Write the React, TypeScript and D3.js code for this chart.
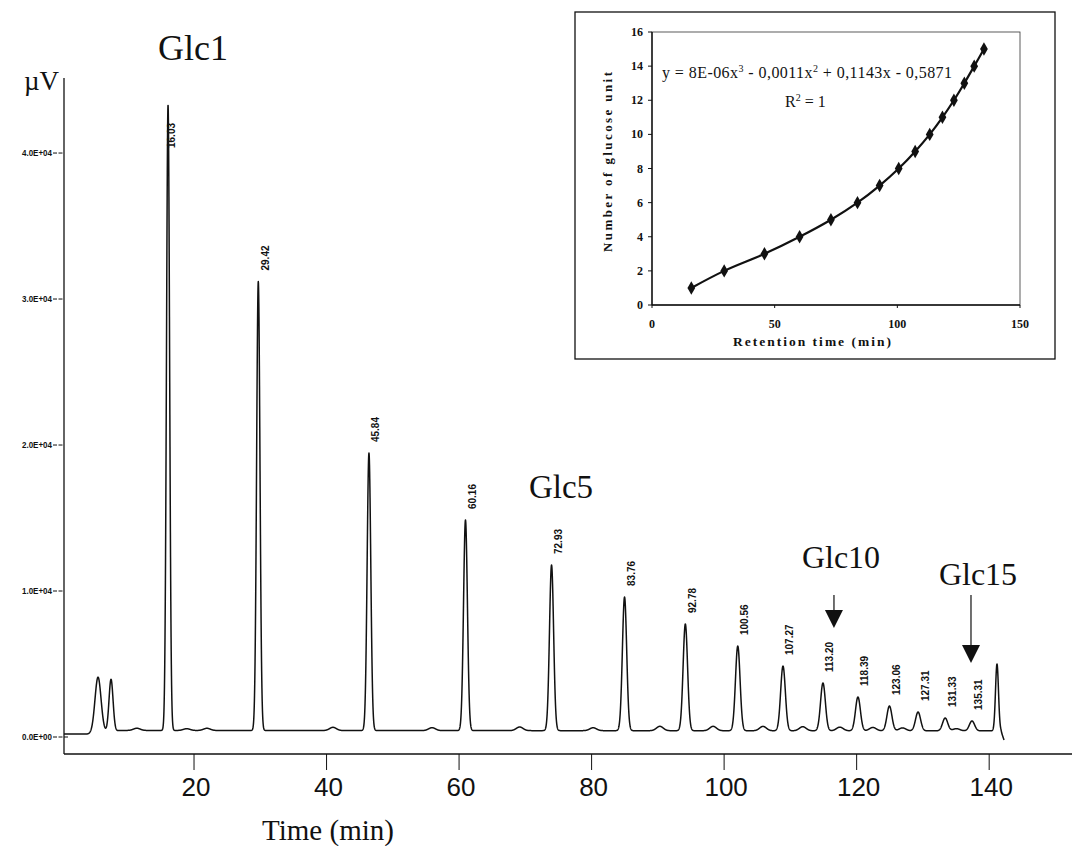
import React from "react";
import * as d3 from "d3";

// Labelled maltooligosaccharide peaks (retention time in min, apex in µV)
const retentionTimes = [16.03, 29.42, 45.84, 60.16, 72.93, 83.76, 92.78, 100.56, 107.27, 113.2, 118.39, 123.06, 127.31, 131.33, 135.31];
const peakLabels = ["16.03", "29.42", "45.84", "60.16", "72.93", "83.76", "92.78", "100.56", "107.27", "113.20", "118.39", "123.06", "127.31", "131.33", "135.31"];
const peakApex = [43300, 31200, 19450, 14860, 11780, 9590, 7740, 6230, 4860, 3700, 2740, 2120, 1710, 1300, 1100];
const glucoseUnits = [1, 2, 3, 4, 5, 6, 7, 8, 9, 10, 11, 12, 13, 14, 15];

// Unlabelled peaks (injection pair and the late system peak)
const extraPeakTimes = [5.64, 7.57, 139.02];
const extraPeakApex = [4100, 3950, 5000];
const extraPeakSigma = [0.45, 0.3, 0.22];

// Small baseline humps between the main peaks
const bumpTimes = [11.4, 18.8, 21.8, 40.5, 55.2, 68.2, 79.1, 89.0, 96.9, 104.3, 110.2, 115.7, 120.6, 125.0, 133.0];
const bumpHeights = [150, 120, 150, 220, 200, 250, 200, 300, 300, 300, 280, 250, 230, 200, 150];

// Baseline drift anchors
const baselineTimes = [0.6, 4.0, 9.0, 139.6, 140.06];
const baselineLevels = [200, 200, 450, 420, -200];

const yTicks = [0, 10000, 20000, 30000, 40000];
const yTickLabels = ["0.0E+00", "1.0E+04", "2.0E+04", "3.0E+04", "4.0E+04"];
const xTicks = [20, 40, 60, 80, 100, 120, 140];

const insetXTicks = [0, 50, 100, 150];
const insetYTicks = [0, 2, 4, 6, 8, 10, 12, 14, 16];

const SANS = "'Liberation Sans', Arial, sans-serif";
const SERIF = "'Liberation Serif', 'Times New Roman', serif";

export default function App() {
  const W = 1072;
  const H = 846;

  // printed time axis
  const axisX = d3.scaleLinear().domain([0, 152.5]).range([61.5, 1072]);
  // recorder trace runs slightly faster than the printed time axis
  const traceX = d3.scaleLinear().domain([0, 150]).range([60, 60 + 6.74 * 150]);
  const y = d3.scaleLinear().domain([0, 45140]).range([737, 78]);

  const baseline = d3.scaleLinear().domain(baselineTimes).range(baselineLevels).clamp(true);
  const sigmaAt = (t: number) => 0.21 + 0.0013 * t;

  const signal = (t: number) => {
    let v = baseline(t);
    retentionTimes.forEach((rt, i) => {
      const s = sigmaAt(rt);
      v += (peakApex[i] - baseline(rt)) * Math.exp(-0.5 * ((t - rt) / s) ** 2);
    });
    extraPeakTimes.forEach((rt, i) => {
      const s = extraPeakSigma[i];
      v += (extraPeakApex[i] - baseline(rt)) * Math.exp(-0.5 * ((t - rt) / s) ** 2);
    });
    bumpTimes.forEach((bt, i) => {
      v += bumpHeights[i] * Math.exp(-0.5 * ((t - bt) / 0.5) ** 2);
    });
    return v;
  };

  const tEnd = baselineTimes[baselineTimes.length - 1];
  const ts = d3.range(baselineTimes[0], tEnd, 0.02).concat([tEnd]);
  const trace = d3
    .line<number>()
    .x((t) => traceX(t))
    .y((t) => y(signal(t)))(ts);

  const axisBottom = 754;
  const axisLeft = 64;

  // inset calibration plot
  const ix = d3.scaleLinear().domain([0, 150]).range([652, 1020]);
  const iy = d3.scaleLinear().domain([0, 16]).range([305, 32]);
  const calib = retentionTimes.map((t, i) => [t, glucoseUnits[i]] as [number, number]);
  const calibLine = d3
    .line<[number, number]>()
    .x((d) => ix(d[0]))
    .y((d) => iy(d[1]))
    .curve(d3.curveCatmullRom)(calib);
  const diamond = d3.symbol(d3.symbolDiamond, 52)();

  const annotations = [
    { text: "Glc1", x: 193, y: 60, size: 36 },
    { text: "Glc5", x: 561, y: 498, size: 33 },
    { text: "Glc10", x: 841, y: 568, size: 32 },
    { text: "Glc15", x: 978, y: 585, size: 32 },
  ];
  const arrows = [
    { x: traceX(113.2) + 11, y0: 595, tip: 628 },
    { x: traceX(135.31) - 1, y0: 595, tip: 663 },
  ];

  return (
    <svg width={W} height={H} style={{ display: "block", position: "absolute", left: 0, top: 0, background: "#fff" }}>
      <rect x={0} y={0} width={W} height={H} fill="#fff" />

      {/* axes */}
      <line x1={axisLeft} y1={78} x2={axisLeft} y2={axisBottom} stroke="#111" strokeWidth={1.3} />
      <line x1={axisLeft} y1={axisBottom} x2={W} y2={axisBottom} stroke="#111" strokeWidth={1.3} />

      {yTicks.map((v, i) => (
        <g key={v}>
          <line x1={53} x2={i === 0 ? 68 : 63} y1={y(v)} y2={y(v)} stroke="#111" strokeWidth={1} strokeDasharray="4,1.5" />
          <text x={52} y={y(v) + 3} textAnchor="end" fontFamily={SANS} fontSize={8.5} fontWeight="bold" fill="#111" textLength={30} lengthAdjust="spacingAndGlyphs">
            {yTickLabels[i]}
          </text>
        </g>
      ))}

      {xTicks.map((v) => (
        <g key={v}>
          <line x1={axisX(v)} x2={axisX(v)} y1={axisBottom} y2={770} stroke="#111" strokeWidth={1} />
          <text x={axisX(v) + 2} y={796} textAnchor="middle" fontFamily={SANS} fontSize={26} fill="#111">
            {v}
          </text>
        </g>
      ))}

      <text x={24} y={90} fontFamily={SERIF} fontSize={27} fill="#111">
        µV
      </text>
      <text x={328} y={840} textAnchor="middle" fontFamily={SERIF} fontSize={29} fill="#111">
        Time (min)
      </text>

      {/* chromatogram */}
      <path d={trace ?? ""} fill="none" stroke="#111" strokeWidth={1.5} strokeLinejoin="round" />

      {retentionTimes.map((rt, i) => {
        const apexY = y(peakApex[i]);
        const clamped = apexY - 11 < 148;
        const px = traceX(rt) + (clamped ? 3 : 7);
        const bottom = clamped ? 148 : apexY - 11;
        return (
          <text
            key={rt}
            transform={`translate(${px},${bottom}) rotate(-90)`}
            dy="0.35em"
            fontFamily={SANS}
            fontSize={10}
            fontWeight="bold"
            fill="#111"
          >
            {peakLabels[i]}
          </text>
        );
      })}

      {annotations.map((a) => (
        <text key={a.text} x={a.x} y={a.y} textAnchor="middle" fontFamily={SERIF} fontSize={a.size} fill="#111">
          {a.text}
        </text>
      ))}
      {arrows.map((a, i) => (
        <g key={i}>
          <line x1={a.x} x2={a.x} y1={a.y0} y2={a.tip - 16} stroke="#111" strokeWidth={1.2} />
          <path d={`M${a.x - 9},${a.tip - 18} L${a.x + 9},${a.tip - 18} L${a.x},${a.tip} Z`} fill="#111" />
        </g>
      ))}

      {/* inset: calibration curve */}
      <rect x={575} y={12} width={480} height={347} fill="#fff" stroke="#111" strokeWidth={1.3} />
      <rect x={ix(0)} y={iy(16)} width={ix(150) - ix(0)} height={iy(0) - iy(16)} fill="none" stroke="#333" strokeWidth={0.8} />
      <line x1={ix(0)} x2={ix(0)} y1={iy(16)} y2={iy(0)} stroke="#111" strokeWidth={1.4} />
      <line x1={ix(0)} x2={ix(150)} y1={iy(0)} y2={iy(0)} stroke="#111" strokeWidth={1.4} />
      {insetYTicks.map((v) => (
        <g key={v}>
          <line x1={ix(0) - 4} x2={ix(0)} y1={iy(v)} y2={iy(v)} stroke="#111" strokeWidth={1} />
          <text x={643} y={iy(v) + 4} textAnchor="end" fontFamily={SERIF} fontSize={12} fontWeight="bold" fill="#111">
            {v}
          </text>
        </g>
      ))}
      {insetXTicks.map((v) => (
        <g key={v}>
          <line x1={ix(v)} x2={ix(v)} y1={iy(0)} y2={iy(0) + 3} stroke="#111" strokeWidth={1} />
          <text x={ix(v)} y={328} textAnchor="middle" fontFamily={SERIF} fontSize={12} fontWeight="bold" fill="#111">
            {v}
          </text>
        </g>
      ))}
      <text
        transform="translate(612,162) rotate(-90)"
        textAnchor="middle"
        fontFamily={SERIF}
        fontSize={13}
        fontWeight="bold"
        fill="#111"
        textLength={180}
        lengthAdjust="spacing"
      >
        Number of glucose unit
      </text>
      <text x={812} y={346} textAnchor="middle" fontFamily={SERIF} fontSize={13.5} fontWeight="bold" fill="#111" textLength={158} lengthAdjust="spacing">
        Retention time (min)
      </text>

      <path d={calibLine ?? ""} fill="none" stroke="#111" strokeWidth={2.2} />
      {calib.map((d) => (
        <path key={d[0]} d={diamond ?? ""} transform={`translate(${ix(d[0])},${iy(d[1])})`} fill="#111" />
      ))}

      <text x={662} y={78} fontFamily={SERIF} fontSize={16} fill="#111" textLength={290} lengthAdjust="spacing">
        <tspan>y = 8E-06x</tspan>
        <tspan fontSize={10} dy={-6}>3</tspan>
        <tspan dy={6}> - 0,0011x</tspan>
        <tspan fontSize={10} dy={-6}>2</tspan>
        <tspan dy={6}> + 0,1143x - 0,5871</tspan>
      </text>
      <text x={785} y={107} fontFamily={SERIF} fontSize={16} fill="#111">
        <tspan>R</tspan>
        <tspan fontSize={10} dy={-6}>2</tspan>
        <tspan dy={6}> = 1</tspan>
      </text>
    </svg>
  );
}
